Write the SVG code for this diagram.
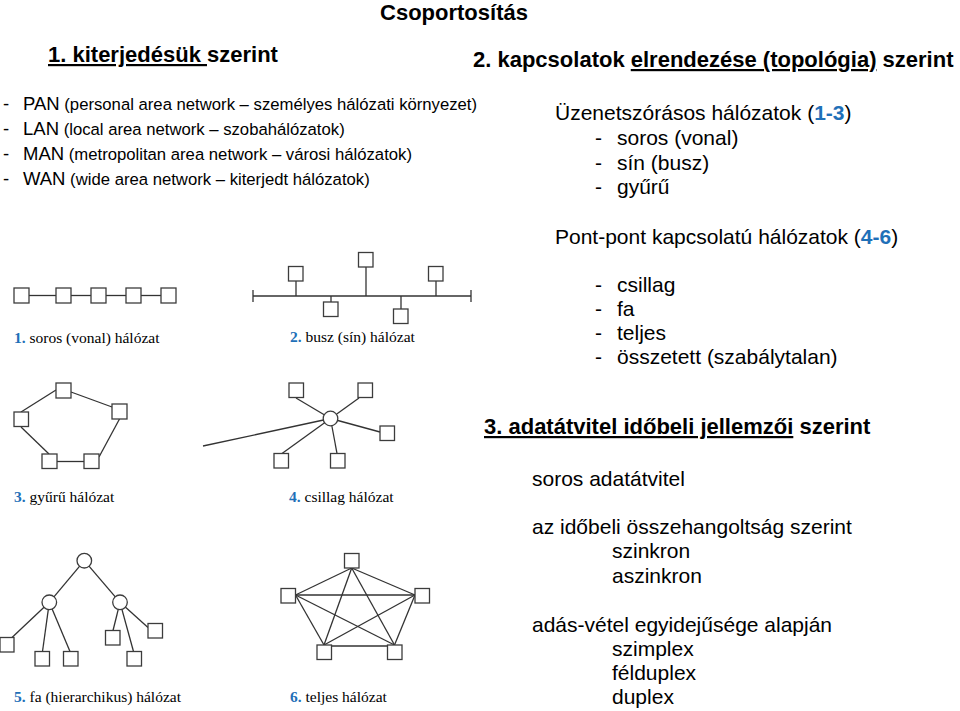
<svg xmlns="http://www.w3.org/2000/svg" width="960" height="711" viewBox="0 0 960 711">
<style>
.sans{font-family:"Liberation Sans",Arial,sans-serif;fill:#000}
.b{font-weight:bold}
.h{font-size:22px;font-weight:bold}
.big{font-size:18.5px}
.sm{font-size:16.7px}
.r{font-size:21px}
.cap{font-family:"Liberation Serif","Times New Roman",serif;font-size:15.5px;fill:#000}
.num{fill:#1f70b8;font-weight:bold}
.u{text-decoration:underline}
rect.n{fill:#fff;stroke:#3c3c3c;stroke-width:1.3}
circle.n{fill:#fff;stroke:#3c3c3c;stroke-width:1.3}
#connectors line{stroke:#333;stroke-width:1.3}
</style>
<rect width="960" height="711" fill="#fff"/>

<!-- headings and text -->
<text class="sans h" x="454" y="19.5" text-anchor="middle">Csoportosítás</text>
<text class="sans h" x="48" y="62"><tspan class="u">1. kiterjedésük </tspan>szerint</text>
<text class="sans h" x="473" y="67">2. kapcsolatok <tspan class="u">elrendezése (topológia)</tspan> szerint</text>

<g id="list-kiterjedes" class="sans">
<text y="110"><tspan class="big" x="3">-</tspan><tspan class="big" x="23">PAN</tspan><tspan class="sm"> (personal area network – személyes hálózati környezet)</tspan></text>
<text y="135"><tspan class="big" x="3">-</tspan><tspan class="big" x="23">LAN</tspan><tspan class="sm"> (local area network – szobahálózatok)</tspan></text>
<text y="160"><tspan class="big" x="3">-</tspan><tspan class="big" x="23">MAN</tspan><tspan class="sm"> (metropolitan area network – városi hálózatok)</tspan></text>
<text y="185"><tspan class="big" x="3">-</tspan><tspan class="big" x="23">WAN</tspan><tspan class="sm"> (wide area network – kiterjedt hálózatok)</tspan></text>
</g>

<g id="list-topologia" class="sans r">
<text x="555" y="120">Üzenetszórásos hálózatok (<tspan class="num">1-3</tspan>)</text>
<text y="145"><tspan x="595">-</tspan><tspan x="617">soros (vonal)</tspan></text>
<text y="169.5"><tspan x="595">-</tspan><tspan x="617">sín (busz)</tspan></text>
<text y="194"><tspan x="595">-</tspan><tspan x="617">gyűrű</tspan></text>
<text x="555" y="243.5">Pont-pont kapcsolatú hálózatok (<tspan class="num">4-6</tspan>)</text>
<text y="292"><tspan x="595">-</tspan><tspan x="617">csillag</tspan></text>
<text y="316"><tspan x="595">-</tspan><tspan x="617">fa</tspan></text>
<text y="340"><tspan x="595">-</tspan><tspan x="617">teljes</tspan></text>
<text y="364"><tspan x="595">-</tspan><tspan x="617">összetett (szabálytalan)</tspan></text>
</g>

<text class="sans h" x="484" y="434"><tspan class="u">3. adatátvitel időbeli jellemzői</tspan> szerint</text>

<g id="list-adatatvitel" class="sans r">
<text x="532" y="485.5">soros adatátvitel</text>
<text x="532" y="534">az időbeli összehangoltság szerint</text>
<text x="612" y="558">szinkron</text>
<text x="612" y="582.5">aszinkron</text>
<text x="532" y="631.5">adás-vétel egyidejűsége alapján</text>
<text x="612" y="655.5">szimplex</text>
<text x="612" y="679.5">félduplex</text>
<text x="612" y="703.5">duplex</text>
</g>

<!-- captions -->
<text class="cap" x="14" y="343"><tspan class="num">1.</tspan> soros (vonal) hálózat</text>
<text class="cap" x="290" y="342"><tspan class="num">2.</tspan> busz (sín) hálózat</text>
<text class="cap" x="14" y="502"><tspan class="num">3.</tspan> gyűrű hálózat</text>
<text class="cap" x="289" y="502"><tspan class="num">4.</tspan> csillag hálózat</text>
<text class="cap" x="14" y="701.5"><tspan class="num">5.</tspan> fa (hierarchikus) hálózat</text>
<text class="cap" x="290" y="701.5"><tspan class="num">6.</tspan> teljes hálózat</text>

<!-- connectors -->
<g id="connectors">
<!-- serial -->
<line x1="29" y1="295.5" x2="56" y2="295.5"/>
<line x1="71" y1="295.5" x2="91" y2="295.5"/>
<line x1="106" y1="295.5" x2="126" y2="295.5"/>
<line x1="141" y1="295.5" x2="161" y2="295.5"/>
<!-- bus -->
<line x1="253" y1="296" x2="471" y2="296"/>
<line x1="253" y1="290" x2="253" y2="302"/>
<line x1="471" y1="290" x2="471" y2="302"/>
<line x1="296" y1="281" x2="296" y2="296"/>
<line x1="331" y1="296" x2="331" y2="302"/>
<line x1="366" y1="267" x2="366" y2="296"/>
<line x1="401" y1="296" x2="401" y2="309"/>
<line x1="436" y1="281" x2="436" y2="296"/>
<!-- ring -->
<line x1="21" y1="412" x2="56" y2="390"/>
<line x1="71" y1="392" x2="112" y2="407"/>
<line x1="119.5" y1="419" x2="99" y2="457"/>
<line x1="57" y1="461.5" x2="84" y2="461.5"/>
<line x1="21" y1="427" x2="49" y2="454"/>
<!-- star -->
<line x1="203" y1="446" x2="330.5" y2="418.5"/>
<line x1="330.5" y1="418.5" x2="296" y2="398"/>
<line x1="330.5" y1="418.5" x2="359" y2="398"/>
<line x1="330.5" y1="418.5" x2="380" y2="432"/>
<line x1="330.5" y1="418.5" x2="282" y2="453.5"/>
<line x1="330.5" y1="418.5" x2="337" y2="453.5"/>
<!-- tree -->
<line x1="84.3" y1="560.7" x2="49.3" y2="602.3"/>
<line x1="84.3" y1="560.7" x2="120" y2="602.3"/>
<line x1="49.3" y1="602.3" x2="12" y2="637.5"/>
<line x1="49.3" y1="602.3" x2="42.5" y2="651.5"/>
<line x1="49.3" y1="602.3" x2="70" y2="651.5"/>
<line x1="120" y1="602.3" x2="113" y2="630.5"/>
<line x1="120" y1="602.3" x2="133.5" y2="651.5"/>
<line x1="120" y1="602.3" x2="148" y2="627.5"/>
<!-- full mesh -->
<line x1="351.7" y1="568" x2="295.5" y2="595"/>
<line x1="351.7" y1="568" x2="415" y2="595"/>
<line x1="351.7" y1="568" x2="324" y2="645"/>
<line x1="351.7" y1="568" x2="394.5" y2="645"/>
<line x1="295.5" y1="595" x2="415" y2="595"/>
<line x1="295.5" y1="595" x2="324" y2="645"/>
<line x1="295.5" y1="595" x2="394.5" y2="645"/>
<line x1="415" y1="595" x2="324" y2="645"/>
<line x1="415" y1="595" x2="394.5" y2="645"/>
<line x1="331" y1="646" x2="388" y2="646"/>
</g>

<!-- nodes: serial -->
<g id="soros-1"><rect class="n" x="14" y="288" width="15" height="15"/></g>
<g id="soros-2"><rect class="n" x="56" y="288" width="15" height="15"/></g>
<g id="soros-3"><rect class="n" x="91" y="288" width="15" height="15"/></g>
<g id="soros-4"><rect class="n" x="126" y="288" width="15" height="15"/></g>
<g id="soros-5"><rect class="n" x="161" y="288" width="15" height="15"/></g>
<!-- bus -->
<g id="busz-1"><rect class="n" x="288.5" y="266.5" width="14.5" height="14.5"/></g>
<g id="busz-2"><rect class="n" x="323.5" y="302" width="14.5" height="14.5"/></g>
<g id="busz-3"><rect class="n" x="358.5" y="252.5" width="14.5" height="14.5"/></g>
<g id="busz-4"><rect class="n" x="393.5" y="309" width="14.5" height="14.5"/></g>
<g id="busz-5"><rect class="n" x="428.5" y="266.5" width="14.5" height="14.5"/></g>
<!-- ring -->
<g id="gyuru-1"><rect class="n" x="56" y="383" width="15" height="15"/></g>
<g id="gyuru-2"><rect class="n" x="112" y="404" width="15" height="15"/></g>
<g id="gyuru-3"><rect class="n" x="14" y="412" width="14.5" height="14.5"/></g>
<g id="gyuru-4"><rect class="n" x="42" y="454" width="15" height="14.5"/></g>
<g id="gyuru-5"><rect class="n" x="84" y="454" width="15" height="14.5"/></g>
<!-- star -->
<g id="csillag-hub"><circle class="n" cx="330.5" cy="418.5" r="7.3"/></g>
<g id="csillag-1"><rect class="n" x="289" y="383" width="14.5" height="14.5"/></g>
<g id="csillag-2"><rect class="n" x="358" y="383" width="14.5" height="14.5"/></g>
<g id="csillag-3"><rect class="n" x="380" y="426" width="14.5" height="14.5"/></g>
<g id="csillag-4"><rect class="n" x="274" y="453.5" width="14.5" height="14.5"/></g>
<g id="csillag-5"><rect class="n" x="330.5" y="453.5" width="14.5" height="14.5"/></g>
<!-- tree -->
<g id="fa-root"><circle class="n" cx="84.3" cy="560.7" r="7.3"/></g>
<g id="fa-bal"><circle class="n" cx="49.3" cy="602.3" r="7.3"/></g>
<g id="fa-jobb"><circle class="n" cx="120" cy="602.3" r="7.3"/></g>
<g id="fa-1"><rect class="n" x="0" y="637.5" width="14" height="14.5"/></g>
<g id="fa-2"><rect class="n" x="35" y="651.5" width="14.5" height="14.5"/></g>
<g id="fa-3"><rect class="n" x="63.5" y="651.5" width="14.5" height="14.5"/></g>
<g id="fa-4"><rect class="n" x="105.5" y="630.5" width="14.5" height="14.5"/></g>
<g id="fa-5"><rect class="n" x="127" y="651.5" width="14.5" height="14.5"/></g>
<g id="fa-6"><rect class="n" x="148" y="623.5" width="14.5" height="14.5"/></g>
<!-- full mesh -->
<g id="teljes-1"><rect class="n" x="344.5" y="553.5" width="14.5" height="14.5"/></g>
<g id="teljes-2"><rect class="n" x="281" y="588.5" width="14.5" height="14.5"/></g>
<g id="teljes-3"><rect class="n" x="415" y="588.5" width="14.5" height="14.5"/></g>
<g id="teljes-4"><rect class="n" x="317" y="645" width="14.5" height="14.5"/></g>
<g id="teljes-5"><rect class="n" x="387.5" y="645" width="14.5" height="14.5"/></g>
</svg>
